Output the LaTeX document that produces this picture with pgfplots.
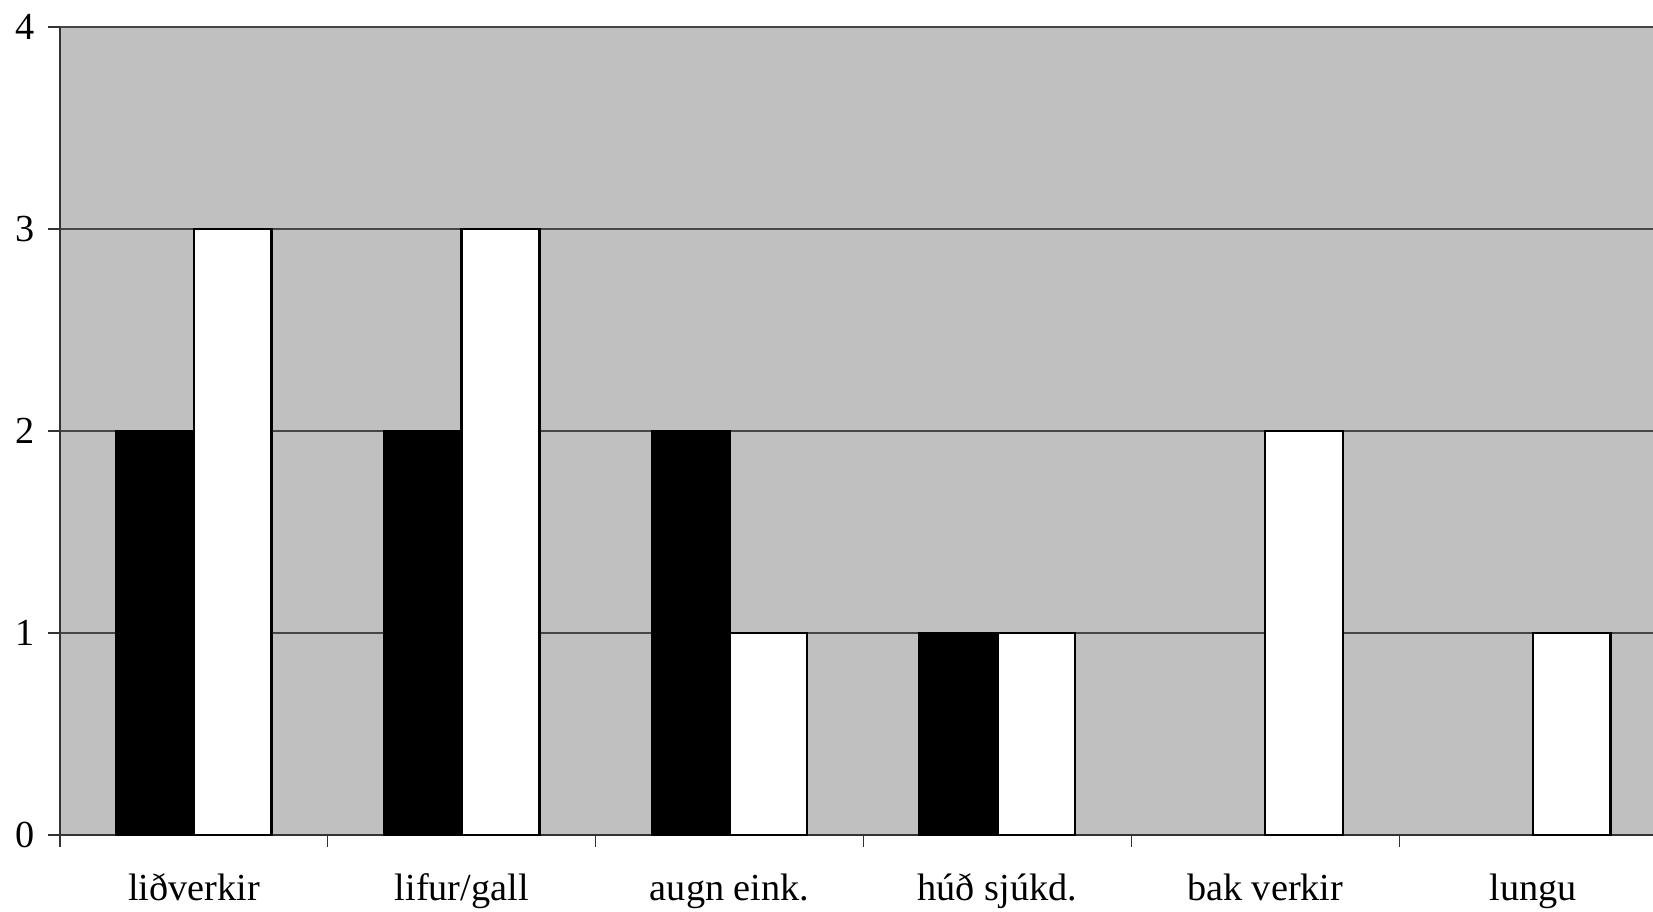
\documentclass[border=0pt]{standalone}
\usepackage{fontspec}
\setmainfont{Liberation Serif}
\usepackage{pgfplots}
\pgfplotsset{compat=1.18}

\definecolor{plotbg}{RGB}{192,192,192}
\definecolor{gridc}{RGB}{70,70,70}

\begin{document}
\begin{tikzpicture}
  % page = 1653x911 px at 0.4pt per px
  \useasboundingbox (-24pt,-30.4pt) rectangle (637.2pt,334pt);
  \begin{axis}[
    at={(0,0)}, anchor=south west,
    scale only axis,
    width=637.2pt, height=323.2pt,
    font=\fontsize{15.3}{18}\selectfont,
    axis background/.style={fill=plotbg},
    axis lines*=left,
    axis line style={line width=0.6pt, color=black!80},
    xmin=-0.5, xmax=5.448,
    ymin=0, ymax=4,
    ytick={0,1,2,3,4},
    ymajorgrids,
    y grid style={gridc, line width=0.5pt},
    xtick={0,1,2,3,4,5},
    xticklabels={liðverkir, lifur/gall, augn eink., húð sjúkd., bak verkir, lungu},
    major x tick style={draw=none},
    minor xtick={-0.5,0.5,1.5,2.5,3.5,4.5},
    tick align=outside,
    tick style={black!80, line width=0.5pt},
    major tick length=4.8pt,
    minor tick length=4.8pt,
    xticklabel style={text height=0.7em, text depth=0.25em, yshift=-10.9pt},
    yticklabel style={xshift=-2pt},
    /pgf/number format/assume math mode=true,
  ]
    \addplot[ybar, bar width=0.29, bar shift=-0.145, fill=black, draw=black, line width=1pt]
      coordinates {(0,2) (1,2) (2,2) (3,1)};
    \addplot[ybar, bar width=0.29, bar shift=0.145, fill=white, draw=black, line width=1pt]
      coordinates {(0,3) (1,3) (2,1) (3,1) (4,2) (5,1)};
  \end{axis}
\end{tikzpicture}
\end{document}
